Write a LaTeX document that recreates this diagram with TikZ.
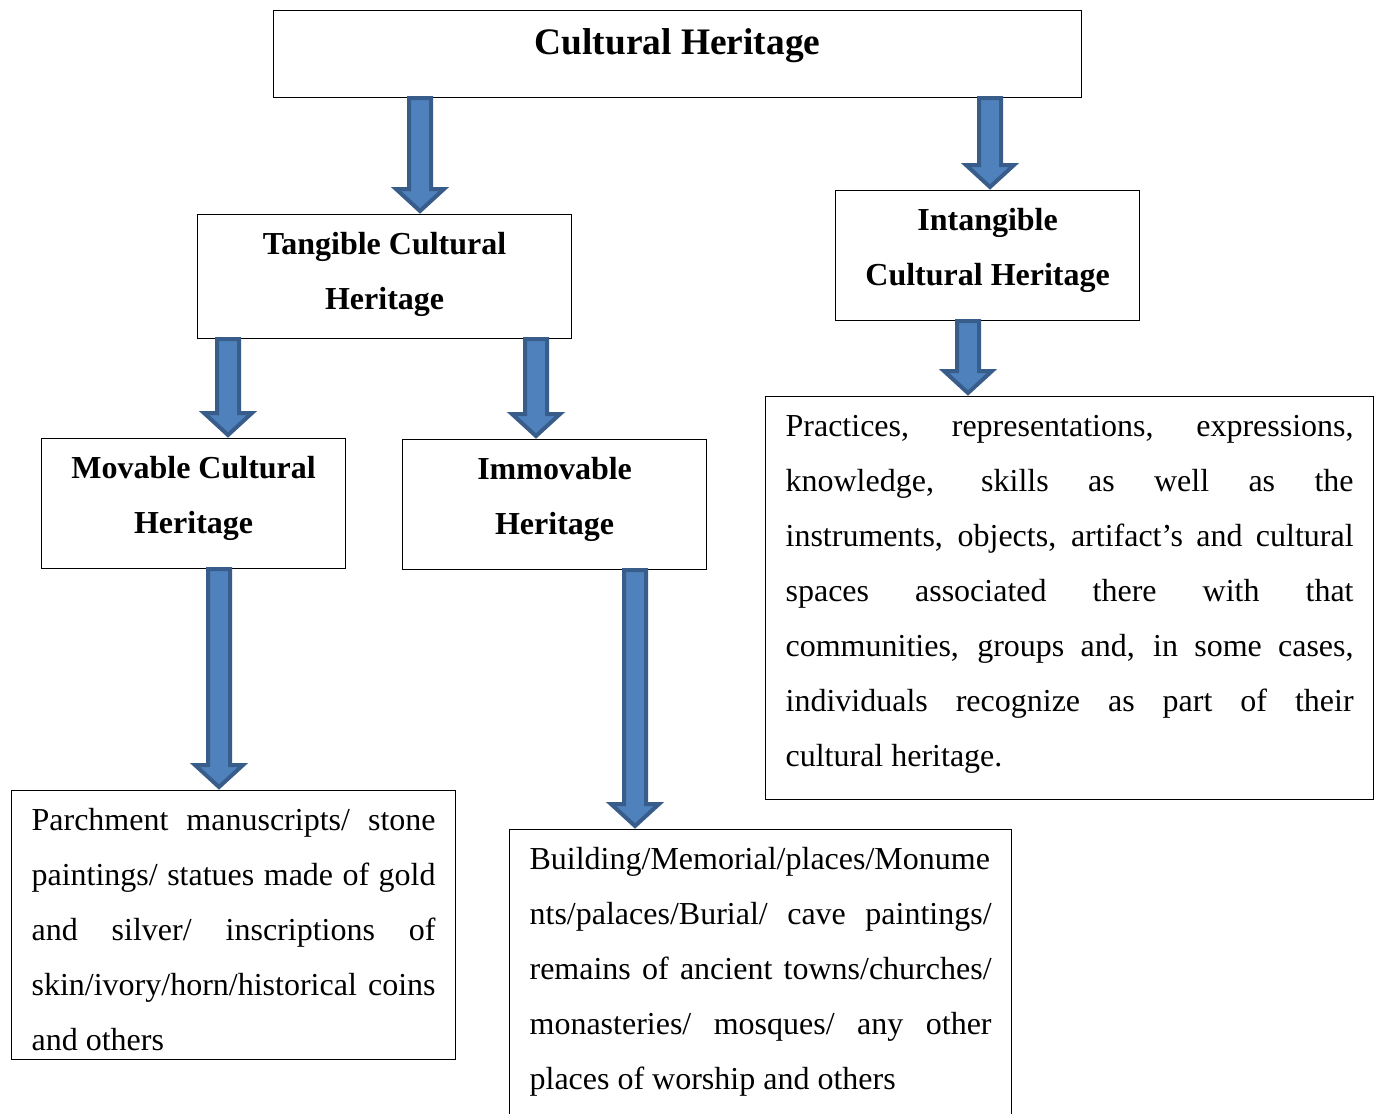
\documentclass[tikz,border=0pt]{standalone}
\usepackage{fontspec}
\setmainfont{Liberation Serif}
\usetikzlibrary{calc}
\hyphenpenalty=10000
\definecolor{arrowfill}{RGB}{79,129,189}
\definecolor{arrowline}{RGB}{56,93,138}

% block arrow: from node, to node, x position
\newcommand{\blockarrow}[3]{%
  \coordinate (ax) at (#3,0);
  \draw[bigarrow] ($(#1.south -| ax)+(-11,0)$) -- ($(#2.north -| ax)+(-11,-25)$)
    -- ($(#2.north -| ax)+(-24,-25)$) -- ($(#2.north -| ax)+(0,-3)$)
    -- ($(#2.north -| ax)+(24,-25)$) -- ($(#2.north -| ax)+(11,-25)$)
    -- ($(#1.south -| ax)+(11,0)$) -- cycle;
}

\begin{document}
\begin{tikzpicture}[x=0.5pt, y=-0.5pt, line join=miter,
  box/.style={draw, line width=0.6pt, anchor=north west, inner ysep=0pt, text height=20pt,
    font=\fontsize{16pt}{27.5pt}\selectfont},
  title/.style={box, align=center, text height=47.5pt, text depth=17.5pt,
    font=\fontsize{16pt}{27.5pt}\selectfont\bfseries},
  desc/.style={box, align=justify, inner xsep=10pt},
  bigarrow/.style={fill=arrowfill, draw=arrowline, line width=2pt}]

\useasboundingbox (0,0) rectangle (1377,1114);

\node[title, minimum width=404pt, text height=22pt, text depth=21.5pt,
  font=\fontsize{18.7pt}{27.5pt}\selectfont\bfseries] (heritage) at (273,10) {Cultural Heritage};

\node[title, minimum width=187pt, text depth=14.5pt] (tangible) at (197,214) {Tangible Cultural\\Heritage};
\node[title, minimum width=152pt] (intangible) at (835,190) {Intangible\\Cultural Heritage};
\node[title, minimum width=152pt] (movable) at (41,438) {Movable Cultural\\Heritage};
\node[title, minimum width=152pt] (immovable) at (402,439) {Immovable\\Heritage};

\node[desc, text width=284pt, text depth=181.5pt] (intdesc) at (765,396) {Practices, representations, expressions,\linebreak
  knowledge, skills as well as the\linebreak
  instruments, objects, artifact’s and cultural\linebreak
  spaces associated there with that\linebreak
  communities, groups and, in some cases,\linebreak
  individuals recognize as part of their\linebreak
  cultural heritage.};

\node[desc, text width=202pt, text depth=114.5pt] (movdesc) at (11,790) {Parchment manuscripts/ stone\linebreak
  paintings/ statues made of gold\linebreak
  and silver/ inscriptions of\linebreak
  skin/ivory/horn/historical coins\linebreak
  and others};

\node[desc, text width=231pt, text depth=125pt] (immdesc) at (509,829) {Building/Memorial/places/Monume\linebreak
  nts/palaces/Burial/ cave paintings/\linebreak
  remains of ancient towns/churches/\linebreak
  monasteries/ mosques/ any other\linebreak
  places of worship and others};

\blockarrow{heritage}{tangible}{420}
\blockarrow{heritage}{intangible}{990}
\blockarrow{tangible}{movable}{228}
\blockarrow{tangible}{immovable}{536}
\blockarrow{intangible}{intdesc}{968}
\blockarrow{movable}{movdesc}{219}
\blockarrow{immovable}{immdesc}{635}

\end{tikzpicture}
\end{document}
